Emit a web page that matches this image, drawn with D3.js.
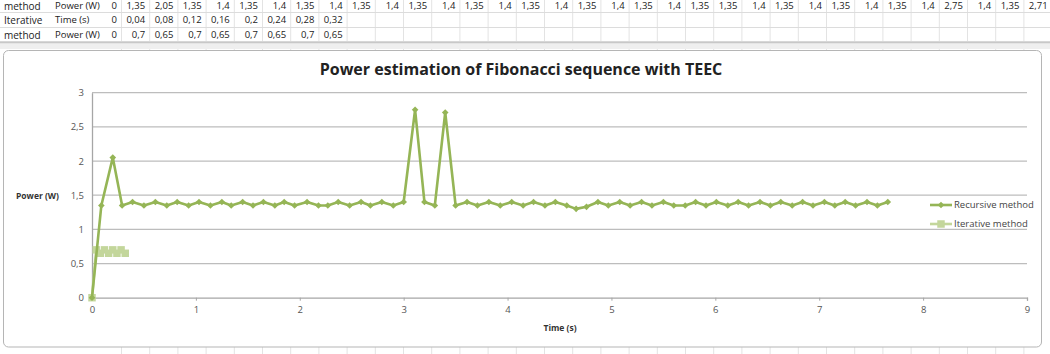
<!DOCTYPE html>
<html>
<head>
<meta charset="utf-8">
<script src="https://cdnjs.cloudflare.com/ajax/libs/d3/7.8.5/d3.min.js"></script>
<style>
    body { margin: 0; background: #ffffff; }
    text { font-family: "Open Sans", "Noto Sans", sans-serif; }
</style>
</head>
<body>
<script>
/* ----------------------------------------------------------------------------
Power estimation of Fibonacci sequence with TEEC.
An Excel sheet screenshot: three table rows on top, the line chart below.
-----------------------------------------------------------------------------*/

// Recursive method: time (s) and power (W)
var recTime = [0, 0.09, 0.2, 0.29, 0.39, 0.5, 0.61, 0.72, 0.82, 0.93,
    1.03, 1.14, 1.25, 1.34, 1.45, 1.55, 1.65, 1.76, 1.85, 1.95,
    2.07, 2.18, 2.27, 2.37, 2.48, 2.59, 2.68, 2.79, 2.9, 3.0,
    3.11, 3.2, 3.3, 3.4, 3.5, 3.61, 3.71, 3.82, 3.93, 4.04,
    4.15, 4.25, 4.36, 4.46, 4.57, 4.66, 4.76, 4.87, 4.97, 5.08,
    5.18, 5.29, 5.39, 5.5, 5.6, 5.71, 5.81, 5.91, 6.01, 6.12,
    6.22, 6.32, 6.43, 6.53, 6.63, 6.74, 6.84, 6.94, 7.05, 7.15,
    7.25, 7.35, 7.46, 7.56, 7.66];
var recPower = [0, 1.35, 2.05, 1.35, 1.4, 1.35, 1.4, 1.35, 1.4, 1.35,
    1.4, 1.35, 1.4, 1.35, 1.4, 1.35, 1.4, 1.35, 1.4, 1.35,
    1.4, 1.35, 1.35, 1.4, 1.35, 1.4, 1.35, 1.4, 1.35, 1.4,
    2.75, 1.4, 1.35, 2.71, 1.35, 1.4, 1.35, 1.4, 1.35, 1.4,
    1.35, 1.4, 1.35, 1.4, 1.35, 1.3, 1.33, 1.4, 1.35, 1.4,
    1.35, 1.4, 1.35, 1.4, 1.35, 1.35, 1.4, 1.35, 1.4, 1.35,
    1.4, 1.35, 1.4, 1.35, 1.4, 1.35, 1.4, 1.35, 1.4, 1.35,
    1.4, 1.35, 1.4, 1.35, 1.4];

// Iterative method: time (s) and power (W), as in the table rows
var iterTime = [0, 0.04, 0.08, 0.12, 0.16, 0.2, 0.24, 0.28, 0.32];
var iterPower = [0, 0.7, 0.65, 0.7, 0.65, 0.7, 0.65, 0.7, 0.65];

var seriesNames = ["Recursive method", "Iterative method"];
var xTicks = [0, 1, 2, 3, 4, 5, 6, 7, 8, 9];
var yTicks = [0, 0.5, 1, 1.5, 2, 2.5, 3];

// The sheet rows that show above the chart
var rowLabels = [["method", "Power (W)"], ["Iterative", "Time (s)"],
    ["method", "Power (W)"]];
var rowValues = [recPower.slice(0, 34), iterTime, iterPower];

var W = 1050, H = 354;
var recColor = "#95b556", iterColor = "#c3d69b";

// Decimal comma, like the sheet
var comma = d3.formatLocale({decimal: ",", thousands: ".",
    grouping: [3], currency: ["", ""]}).format("~g");

var root = d3.select("body").append("svg")
    .attr("width", W)
    .attr("height", H);

/* ---------------------------- sheet background ----------------------------*/
var sheet = root.append("g").attr("class", "sheet");
var rowLines = [12.5, 27.5, 41.5];
var colRight = function(i) { return 117 + i * 28.2; };

// vertical cell borders
sheet.selectAll("line.col")
    .data(d3.range(0, 36))
    .enter().append("line")
    .attr("class", "col")
    .attr("x1", function(i) { return colRight(i) + 4.5; })
    .attr("x2", function(i) { return colRight(i) + 4.5; })
    .attr("y1", 0).attr("y2", H)
    .attr("stroke", "#e3e3e3");
sheet.selectAll("line.row")
    .data(rowLines)
    .enter().append("line")
    .attr("class", "row")
    .attr("x1", 0).attr("x2", W)
    .attr("y1", function(d) { return d; })
    .attr("y2", function(d) { return d; })
    .attr("stroke", "#dcdcdc");

// the grey split band under the third row
sheet.append("rect")
    .attr("x", 0).attr("y", 42).attr("width", W).attr("height", 7)
    .attr("fill", "#efefef");
sheet.append("line")
    .attr("x1", 0).attr("x2", W).attr("y1", 42.5).attr("y2", 42.5)
    .attr("stroke", "#c8c8c8").attr("stroke-width", 1.5);

var rowY = [6, 20, 35];
rowLabels.forEach(function(lab, r) {
    sheet.append("text")
        .attr("x", 4).attr("y", rowY[r])
        .attr("dy", "0.35em")
        .attr("font-size", "10px")
        .attr("fill", "#222")
        .text(lab[0]);
    sheet.append("text")
        .attr("x", 55).attr("y", rowY[r])
        .attr("dy", "0.35em")
        .attr("font-size", "9.5px")
        .attr("fill", "#222")
        .text(lab[1]);
    sheet.selectAll("text.v" + r)
        .data(rowValues[r])
        .enter().append("text")
        .attr("class", "v" + r)
        .attr("x", function(d, i) { return colRight(i); })
        .attr("y", rowY[r])
        .attr("dy", "0.35em")
        .attr("text-anchor", "end")
        .attr("font-size", "9.5px")
        .attr("fill", "#222")
        .text(function(d) { return comma(d); });
});

/* -------------------------------- chart box -------------------------------*/
root.append("rect")
    .attr("x", 3.5).attr("y", 50.5)
    .attr("width", 1038).attr("height", 296.5)
    .attr("rx", 5)
    .attr("fill", "#ffffff")
    .attr("stroke", "#b5b5b5");

root.append("text")
    .attr("x", 521).attr("y", 69)
    .attr("dy", "0.35em")
    .attr("text-anchor", "middle")
    .attr("font-size", "16px")
    .attr("font-weight", "bold")
    .attr("fill", "#222")
    .text("Power estimation of Fibonacci sequence with TEEC");

// plot area, D3 margin convention inside the whole picture
var margin = {top: 92.7, right: 23, bottom: 56.3, left: 92},
    width = W - margin.left - margin.right,
    height = H - margin.top - margin.bottom;

var svg = root.append("g")
    .attr("transform", "translate(" + margin.left + "," + margin.top + ")");

var xScale = d3.scaleLinear().domain([0, 9]).range([0, width]);
var yScale = d3.scaleLinear().domain([0, 3]).range([height, 0]);

// horizontal gridlines
svg.selectAll("line.grid")
    .data(yTicks.slice(1))
    .enter().append("line")
    .attr("class", "grid")
    .attr("x1", 0).attr("x2", width)
    .attr("y1", function(d) { return yScale(d); })
    .attr("y2", function(d) { return yScale(d); })
    .attr("stroke", "#bdbdbd")
    .attr("stroke-width", 1.3);

var xAxis = d3.axisBottom(xScale).tickValues(xTicks)
    .tickSize(3).tickPadding(6).tickFormat(comma);
var yAxis = d3.axisLeft(yScale).tickValues(yTicks)
    .tickSize(0).tickPadding(8).tickFormat(comma);

var gx = svg.append("g")
    .attr("transform", "translate(0," + height + ")")
    .call(xAxis);
var gy = svg.append("g").call(yAxis);

[gx, gy].forEach(function(g) {
    g.select(".domain").attr("stroke", "#a6a6a6").attr("stroke-width", 1.3);
    g.selectAll(".tick line").attr("stroke", "#a6a6a6");
    g.selectAll(".tick text")
        .attr("fill", "#555")
        .attr("font-size", "9.5px")
        .attr("font-family", "\"Open Sans\", sans-serif");
});

// axis titles (Excel puts the y title horizontally at the left)
root.append("text")
    .attr("x", 16).attr("y", 196)
    .attr("dy", "0.35em")
    .attr("font-size", "8.5px")
    .attr("font-weight", "bold")
    .attr("fill", "#333")
    .text("Power (W)");
root.append("text")
    .attr("x", 560).attr("y", 328)
    .attr("dy", "0.35em")
    .attr("text-anchor", "middle")
    .attr("font-size", "8.5px")
    .attr("font-weight", "bold")
    .attr("fill", "#333")
    .text("Time (s)");

/* --------------------------------- series ---------------------------------*/
var series = [
    {name: seriesNames[0], t: recTime, p: recPower, color: recColor,
        marker: d3.symbol(d3.symbolSquare, 22), rot: 45},
    {name: seriesNames[1], t: iterTime, p: iterPower, color: iterColor,
        marker: d3.symbol(d3.symbolSquare, 56), rot: 0}
];

var line = d3.line()
    .x(function(d) { return xScale(d[0]); })
    .y(function(d) { return yScale(d[1]); });

// iterative first, the recursive line is drawn over it
[series[1], series[0]].forEach(function(s) {
    var pts = s.t.map(function(t, i) { return [t, s.p[i]]; });
    svg.append("path")
        .datum(pts)
        .attr("fill", "none")
        .attr("stroke", s.color)
        .attr("stroke-width", 2.6)
        .attr("stroke-linejoin", "round")
        .attr("d", line);
    svg.selectAll(null)
        .data(pts)
        .enter().append("path")
        .attr("transform", function(d) {
            return "translate(" + xScale(d[0]) + "," + yScale(d[1]) +
                ")rotate(" + s.rot + ")";
        })
        .attr("d", s.marker())
        .attr("fill", s.color);
});

/* --------------------------------- legend ---------------------------------*/
var legend = root.append("g")
    .attr("transform", "translate(930,0)");
var legY = [205, 224];
series.forEach(function(s, i) {
    legend.append("line")
        .attr("x1", 0).attr("x2", 22)
        .attr("y1", legY[i]).attr("y2", legY[i])
        .attr("stroke", s.color).attr("stroke-width", 2.6);
    legend.append("path")
        .attr("transform", "translate(11," + legY[i] + ")rotate(" +
            s.rot + ")")
        .attr("d", s.marker())
        .attr("fill", s.color);
    legend.append("text")
        .attr("x", 24).attr("y", legY[i])
        .attr("dy", "0.35em")
        .attr("font-size", "9.5px")
        .attr("fill", "#444")
        .text(s.name);
});
</script>
</body>
</html>
